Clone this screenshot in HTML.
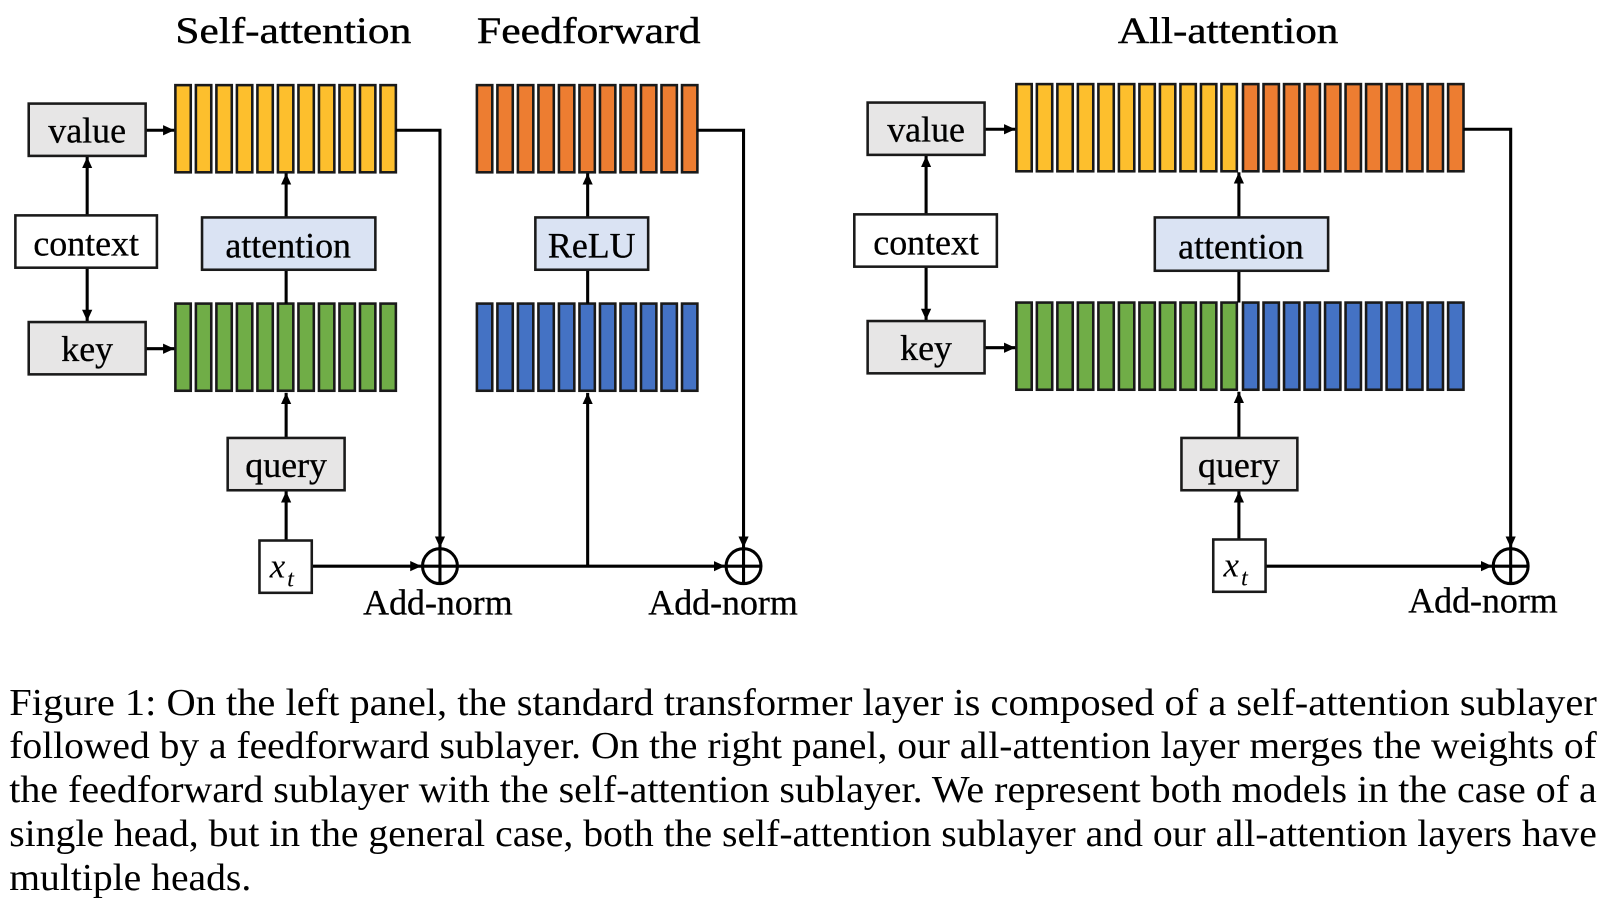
<!DOCTYPE html>
<html><head><meta charset="utf-8"><style>
html,body{margin:0;padding:0;background:#fff;width:1604px;height:908px;overflow:hidden}
svg{display:block}
text{font-family:"Liberation Serif",serif;fill:#000}
</style></head><body>
<svg width="1604" height="908" viewBox="0 0 1564 885.3" preserveAspectRatio="none" xmlns="http://www.w3.org/2000/svg">
<defs>
<marker id="a" markerUnits="userSpaceOnUse" markerWidth="12" markerHeight="12" refX="11" refY="6" orient="auto"><path d="M0,1 L11,6 L0,11 z" fill="#000"/></marker>
<g id="b11" stroke="#1a1a1a" stroke-width="2.5">
<rect x="0" y="0" width="15" height="85"/><rect x="20" y="0" width="15" height="85"/><rect x="40" y="0" width="15" height="85"/><rect x="60" y="0" width="15" height="85"/><rect x="80" y="0" width="15" height="85"/><rect x="100" y="0" width="15" height="85"/><rect x="120" y="0" width="15" height="85"/><rect x="140" y="0" width="15" height="85"/><rect x="160" y="0" width="15" height="85"/><rect x="180" y="0" width="15" height="85"/><rect x="200" y="0" width="15" height="85"/>
</g>
</defs>
<g font-size="36" stroke="#000" stroke-width="0.4">
<text x="171" y="42" textLength="230" lengthAdjust="spacingAndGlyphs">Self-attention</text>
<text x="465" y="42" textLength="218" lengthAdjust="spacingAndGlyphs">Feedforward</text>
<text x="1090" y="42" textLength="215" lengthAdjust="spacingAndGlyphs">All-attention</text>
</g>
<use href="#b11" x="171" y="83" fill="#fdbf2d"/>
<use href="#b11" x="171" y="296" fill="#70ad47"/>
<use href="#b11" x="465" y="83" fill="#ed7d31"/>
<use href="#b11" x="465" y="296" fill="#4472c4"/>
<use href="#b11" x="991" y="82" fill="#fdbf2d"/>
<use href="#b11" x="1212" y="82" fill="#ed7d31"/>
<use href="#b11" x="991" y="295" fill="#70ad47"/>
<use href="#b11" x="1212" y="295" fill="#4472c4"/>
<g stroke="#000" stroke-width="3" fill="none">
<line x1="85" y1="210" x2="85" y2="153" marker-end="url(#a)"/>
<line x1="85" y1="261" x2="85" y2="313" marker-end="url(#a)"/>
<line x1="142" y1="127" x2="170" y2="127" marker-end="url(#a)"/>
<line x1="142" y1="340" x2="170" y2="340" marker-end="url(#a)"/>
<line x1="279" y1="212" x2="279" y2="169" marker-end="url(#a)"/>
<line x1="279" y1="263" x2="279" y2="296"/>
<line x1="279" y1="427" x2="279" y2="383" marker-end="url(#a)"/>
<line x1="279" y1="527" x2="279" y2="479" marker-end="url(#a)"/>
<line x1="304" y1="552" x2="411" y2="552" marker-end="url(#a)"/>
<polyline points="386,127 429,127 429,534" marker-end="url(#a)"/>
<line x1="446" y1="552" x2="707" y2="552" marker-end="url(#a)"/>
<line x1="573" y1="552" x2="573" y2="383" marker-end="url(#a)"/>
<line x1="573" y1="212" x2="573" y2="169" marker-end="url(#a)"/>
<line x1="573" y1="263" x2="573" y2="296"/>
<polyline points="680,127 725,127 725,534" marker-end="url(#a)"/>
<circle cx="429" cy="552" r="17"/><line x1="412" y1="552" x2="446" y2="552"/><line x1="429" y1="535" x2="429" y2="569"/>
<circle cx="725" cy="552" r="17"/><line x1="708" y1="552" x2="742" y2="552"/><line x1="725" y1="535" x2="725" y2="569"/>
<line x1="903" y1="209" x2="903" y2="152" marker-end="url(#a)"/>
<line x1="903" y1="260" x2="903" y2="312" marker-end="url(#a)"/>
<line x1="960" y1="126" x2="990" y2="126" marker-end="url(#a)"/>
<line x1="960" y1="339" x2="990" y2="339" marker-end="url(#a)"/>
<line x1="1208" y1="212" x2="1208" y2="168" marker-end="url(#a)"/>
<line x1="1208" y1="264" x2="1208" y2="295"/>
<line x1="1208" y1="427" x2="1208" y2="382" marker-end="url(#a)"/>
<line x1="1208" y1="526" x2="1208" y2="479" marker-end="url(#a)"/>
<line x1="1234" y1="552" x2="1455" y2="552" marker-end="url(#a)"/>
<polyline points="1427,126 1473,126 1473,534" marker-end="url(#a)"/>
<circle cx="1473" cy="552" r="17"/><line x1="1456" y1="552" x2="1490" y2="552"/><line x1="1473" y1="535" x2="1473" y2="569"/>
</g>
<g stroke="#1a1a1a" stroke-width="2.5">
<rect x="28" y="101" width="114" height="51" fill="#e7e6e6"/>
<rect x="15" y="210" width="138" height="51" fill="#fff"/>
<rect x="28" y="314" width="114" height="51" fill="#e7e6e6"/>
<rect x="197" y="212" width="169" height="51" fill="#dae3f3"/>
<rect x="222" y="427" width="114" height="51" fill="#e7e6e6"/>
<rect x="253" y="527" width="51" height="51" fill="#fff"/>
<rect x="522" y="212" width="110" height="51" fill="#dae3f3"/>
<rect x="846" y="100" width="114" height="51" fill="#e7e6e6"/>
<rect x="833" y="209" width="139" height="51" fill="#fff"/>
<rect x="846" y="313" width="114" height="51" fill="#e7e6e6"/>
<rect x="1126" y="212" width="169" height="52" fill="#dae3f3"/>
<rect x="1152" y="427" width="113" height="51" fill="#e7e6e6"/>
<rect x="1183" y="526" width="51" height="51" fill="#fff"/>
</g>
<g font-size="35" text-anchor="middle" stroke="#000" stroke-width="0.3">
<text x="85" y="139">value</text>
<text x="84" y="249">context</text>
<text x="85" y="352">key</text>
<text x="281" y="251">attention</text>
<text x="279" y="465">query</text>
<text x="577" y="251">ReLU</text>
<text x="903" y="138">value</text>
<text x="903" y="248">context</text>
<text x="903" y="351">key</text>
<text x="1210" y="252">attention</text>
<text x="1208" y="465">query</text>
<text x="427" y="599">Add-norm</text>
<text x="705" y="599">Add-norm</text>
<text x="1446" y="597">Add-norm</text>
</g>
<g font-size="34" font-style="italic">
<text x="263" y="563">x</text><text x="280" y="572" font-size="24">t</text>
<text x="1193" y="562">x</text><text x="1210" y="571" font-size="24">t</text>
</g>
<g font-size="37.5">
<text x="9" y="697" textLength="1548" lengthAdjust="spacingAndGlyphs">Figure 1: On the left panel, the standard transformer layer is composed of a self-attention sublayer</text>
<text x="9" y="739" textLength="1548" lengthAdjust="spacingAndGlyphs">followed by a feedforward sublayer. On the right panel, our all-attention layer merges the weights of</text>
<text x="9" y="782" textLength="1548" lengthAdjust="spacingAndGlyphs">the feedforward sublayer with the self-attention sublayer. We represent both models in the case of a</text>
<text x="9" y="825" textLength="1548" lengthAdjust="spacingAndGlyphs">single head, but in the general case, both the self-attention sublayer and our all-attention layers have</text>
<text x="9" y="868" textLength="236" lengthAdjust="spacingAndGlyphs">multiple heads.</text>
</g>
</svg>
</body></html>
